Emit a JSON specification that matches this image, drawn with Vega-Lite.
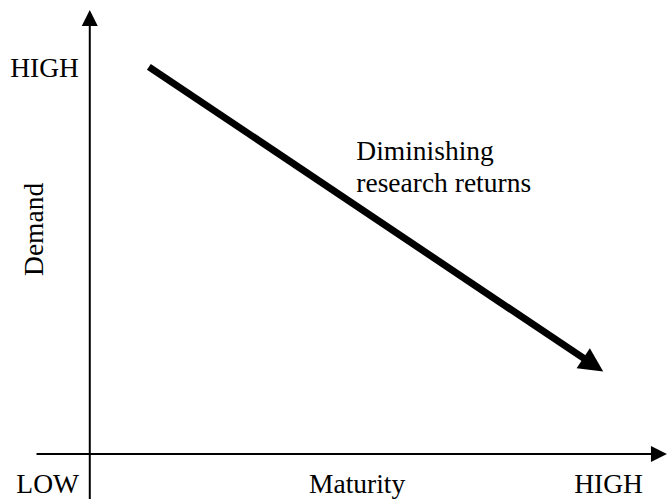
{
  "$schema": "https://vega.github.io/schema/vega-lite/v6.json",
  "width": 667,
  "height": 500,
  "padding": 0,
  "autosize": {"type": "fit", "contains": "padding"},
  "background": "white",
  "config": {"view": {"stroke": null}},
  "datasets": {
    "segments": [
      {"part": "yaxis", "x": 0, "y": -10.11, "x2": 0, "y2": 97.75},
      {"part": "xaxis", "x": -9.375, "y": 0, "x2": 99.5, "y2": 0},
      {"part": "trend", "x": 10.4, "y": 87.2, "x2": 88.4, "y2": 20.3}
    ],
    "heads": [
      {"part": "yaxis", "x": 0, "y": 98.2},
      {"part": "xaxis", "x": 100.17, "y": 0},
      {"part": "trend", "x": 88.6, "y": 20.1}
    ],
    "labels": [
      {"label": "HIGH", "role": "yhigh", "x": -1.9, "y": 84.9},
      {"label": "LOW", "role": "low", "x": -1.9, "y": -8.76},
      {"label": "Maturity", "role": "xtitle", "x": 47.05, "y": -8.76},
      {"label": "HIGH", "role": "xhigh", "x": 91.3, "y": -8.76},
      {"label": "Demand", "role": "ytitle", "x": -9.72, "y": 50.6},
      {"label": "Diminishing", "role": "note", "x": 46.9, "y": 66.3},
      {"label": "research returns", "role": "note", "x": 46.9, "y": 59.1}
    ]
  },
  "layer": [
    {
      "data": {"name": "segments"},
      "transform": [{"filter": "datum.part !== 'trend'"}],
      "mark": {"type": "rule", "color": "black", "strokeWidth": 2},
      "encoding": {
        "x": {"field": "x", "type": "quantitative", "scale": {"domain": [-15.8, 100], "nice": false, "zero": false}, "axis": null},
        "y": {"field": "y", "type": "quantitative", "scale": {"domain": [-10.11, 102.25], "nice": false, "zero": false}, "axis": null},
        "x2": {"field": "x2"},
        "y2": {"field": "y2"}
      }
    },
    {
      "data": {"name": "segments"},
      "transform": [{"filter": "datum.part === 'trend'"}],
      "mark": {"type": "rule", "color": "black", "strokeWidth": 7},
      "encoding": {
        "x": {"field": "x", "type": "quantitative", "axis": null},
        "y": {"field": "y", "type": "quantitative", "axis": null},
        "x2": {"field": "x2"},
        "y2": {"field": "y2"}
      }
    },
    {
      "data": {"name": "heads"},
      "transform": [{"filter": "datum.part === 'yaxis'"}],
      "mark": {"type": "point", "shape": "M1,0L-1,-1L-1,1Z", "angle": 270, "size": 256, "filled": true, "color": "black", "opacity": 1, "strokeWidth": 0},
      "encoding": {
        "x": {"field": "x", "type": "quantitative", "axis": null},
        "y": {"field": "y", "type": "quantitative", "axis": null}
      }
    },
    {
      "data": {"name": "heads"},
      "transform": [{"filter": "datum.part === 'xaxis'"}],
      "mark": {"type": "point", "shape": "M1,0L-1,-1L-1,1Z", "angle": 0, "size": 256, "filled": true, "color": "black", "opacity": 1, "strokeWidth": 0},
      "encoding": {
        "x": {"field": "x", "type": "quantitative", "axis": null},
        "y": {"field": "y", "type": "quantitative", "axis": null}
      }
    },
    {
      "data": {"name": "heads"},
      "transform": [{"filter": "datum.part === 'trend'"}],
      "mark": {"type": "point", "shape": "M1,0L-1,-1L-1,1Z", "angle": 33.6, "size": 576, "filled": true, "color": "black", "opacity": 1, "strokeWidth": 0},
      "encoding": {
        "x": {"field": "x", "type": "quantitative", "axis": null},
        "y": {"field": "y", "type": "quantitative", "axis": null}
      }
    },
    {
      "data": {"name": "labels"},
      "transform": [{"filter": "datum.role === 'yhigh' || datum.role === 'low'"}],
      "mark": {"type": "text", "font": "Liberation Serif", "fontSize": 27.5, "color": "black", "align": "right", "baseline": "alphabetic"},
      "encoding": {
        "x": {"field": "x", "type": "quantitative", "axis": null},
        "y": {"field": "y", "type": "quantitative", "axis": null},
        "text": {"field": "label"}
      }
    },
    {
      "data": {"name": "labels"},
      "transform": [{"filter": "datum.role === 'xtitle' || datum.role === 'xhigh'"}],
      "mark": {"type": "text", "font": "Liberation Serif", "fontSize": 27.5, "color": "black", "align": "center", "baseline": "alphabetic"},
      "encoding": {
        "x": {"field": "x", "type": "quantitative", "axis": null},
        "y": {"field": "y", "type": "quantitative", "axis": null},
        "text": {"field": "label"}
      }
    },
    {
      "data": {"name": "labels"},
      "transform": [{"filter": "datum.role === 'ytitle'"}],
      "mark": {"type": "text", "font": "Liberation Serif", "fontSize": 27.5, "color": "black", "align": "center", "baseline": "middle", "angle": 270},
      "encoding": {
        "x": {"field": "x", "type": "quantitative", "axis": null},
        "y": {"field": "y", "type": "quantitative", "axis": null},
        "text": {"field": "label"}
      }
    },
    {
      "data": {"name": "labels"},
      "transform": [{"filter": "datum.role === 'note'"}],
      "mark": {"type": "text", "font": "Liberation Serif", "fontSize": 27.5, "color": "black", "align": "left", "baseline": "alphabetic"},
      "encoding": {
        "x": {"field": "x", "type": "quantitative", "axis": null},
        "y": {"field": "y", "type": "quantitative", "axis": null},
        "text": {"field": "label"}
      }
    }
  ]
}
